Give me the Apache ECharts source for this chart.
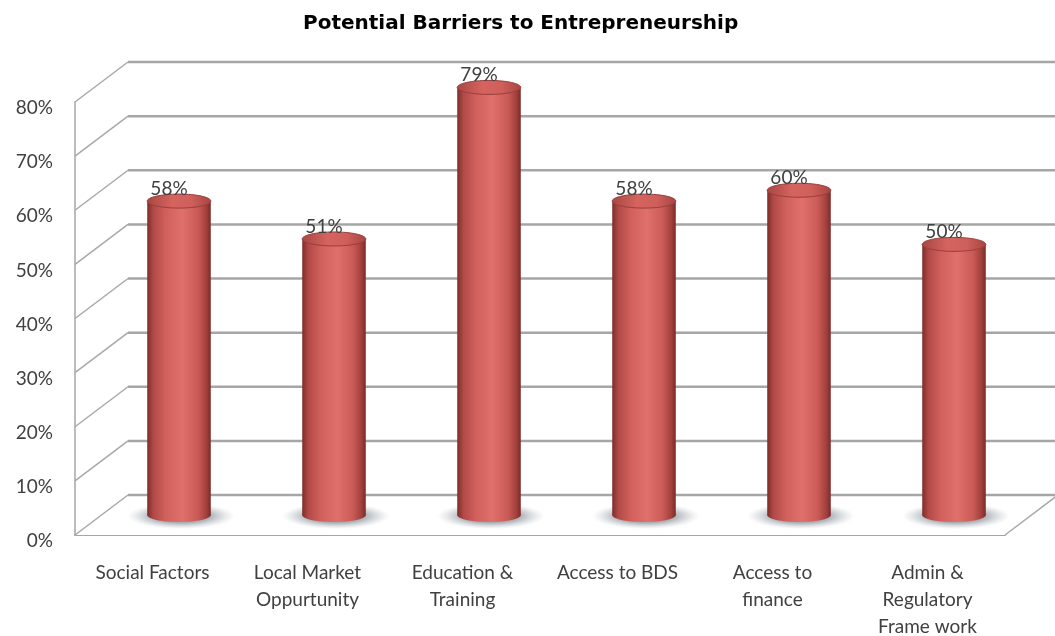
<!DOCTYPE html>
<html>
<head>
<meta charset="utf-8">
<script src="https://cdn.jsdelivr.net/npm/echarts@6/dist/echarts.min.js"></script>
<style>
  html, body { margin: 0; padding: 0; background: #ffffff; }
  #chart { width: 1055px; height: 636px; }
</style>
</head>
<body>
<div id="chart"></div>
<script>
// Survey results: share of respondents naming each barrier
const categories = [
  'Social Factors',
  'Local Market\nOppurtunity',
  'Education &\nTraining',
  'Access to BDS',
  'Access to\nfinance',
  'Admin &\nRegulatory\nFrame work'
];
const barriers = [58, 51, 79, 58, 60, 50];
const yTicks = [0, 10, 20, 30, 40, 50, 60, 70, 80];

// Depth of the pseudo-3D box (pixel offset from front plane to back wall)
const DEPTH_X = 53;
const DEPTH_Y = -40;
const TEXT_FONT = 'Lato, "Open Sans", sans-serif';
const GRID_COLOR = '#a8a8a8';

// Back wall, side wall and floor lines, one item per y tick
function renderWall(params, api) {
  const v = api.value(1);
  const p = api.coord([0, v]);
  const cs = params.coordSys;
  const x0 = cs.x;
  const x1 = cs.x + cs.width;
  const y = p[1];
  const children = [];
  if (v === 0) {
    children.push({
      type: 'polygon',
      shape: { points: [[x0, y], [x0 + DEPTH_X, y + DEPTH_Y], [x1 + DEPTH_X, y + DEPTH_Y], [x1, y]] },
      style: { fill: '#ffffff' }
    });
    children.push({
      type: 'line',
      shape: { x1: x1, y1: y, x2: x1 + DEPTH_X, y2: y + DEPTH_Y },
      style: { stroke: GRID_COLOR, lineWidth: 1.5 }
    });
  }
  children.push({
    type: 'line',
    shape: { x1: x0, y1: y, x2: x0 + DEPTH_X, y2: y + DEPTH_Y },
    style: { stroke: GRID_COLOR, lineWidth: 1.5 }
  });
  children.push({
    type: 'line',
    shape: { x1: x0 + DEPTH_X, y1: y + DEPTH_Y, x2: x1 + DEPTH_X, y2: y + DEPTH_Y },
    style: { stroke: '#a6a6a6', lineWidth: 2.5 }
  });
  return { type: 'group', children: children };
}

// Cylinder standing in the middle of the box depth
function renderCylinder(params, api) {
  const i = api.value(0);
  const v = api.value(1);
  const base = api.coord([i, 0]);
  const top = api.coord([i, v]);
  const w = api.size([1, 0])[0] * 0.41;
  const cx = base[0] + DEPTH_X / 2;
  const by = base[1] + DEPTH_Y / 2;
  const ty = top[1] + DEPTH_Y / 2;
  const rx = w / 2;
  const ry = 7;
  const shadowR = 13;
  const shadowRx = rx + 22;

  const bodyFill = new echarts.graphic.LinearGradient(0, 0, 1, 0, [
    { offset: 0, color: '#7e2d2b' },
    { offset: 0.1, color: '#b24a47' },
    { offset: 0.3, color: '#d2615d' },
    { offset: 0.55, color: '#e0706c' },
    { offset: 0.8, color: '#c95a56' },
    { offset: 0.93, color: '#a2403d' },
    { offset: 1, color: '#7a2b29' }
  ]);
  const topFill = new echarts.graphic.LinearGradient(0, 0, 1, 0, [
    { offset: 0, color: '#a84643' },
    { offset: 0.4, color: '#d5645f' },
    { offset: 0.7, color: '#cf5f5b' },
    { offset: 1, color: '#a64542' }
  ]);
  const shadowFill = new echarts.graphic.RadialGradient(0.5, 0.5, 0.5, [
    { offset: 0, color: 'rgba(80,90,100,0.85)' },
    { offset: 0.55, color: 'rgba(110,120,130,0.55)' },
    { offset: 1, color: 'rgba(160,170,180,0)' }
  ]);

  return {
    type: 'group',
    children: [
      {
        // soft floor shadow: a round gradient stretched sideways
        type: 'circle',
        shape: { cx: cx + 2, cy: by + 1, r: shadowR },
        originX: cx + 2,
        originY: by + 1,
        scaleX: shadowRx / shadowR,
        style: { fill: shadowFill }
      },
      {
        type: 'ellipse',
        shape: { cx: cx, cy: by, rx: rx, ry: ry },
        style: { fill: bodyFill }
      },
      {
        type: 'rect',
        shape: { x: cx - rx, y: ty, width: w, height: by - ty },
        style: { fill: bodyFill }
      },
      {
        type: 'ellipse',
        shape: { cx: cx, cy: ty, rx: rx, ry: ry },
        style: { fill: topFill, stroke: '#9a3d3a', lineWidth: 1 }
      },
      {
        type: 'text',
        x: cx - 10,
        y: ty - 3,
        style: {
          text: v + '%',
          align: 'center',
          verticalAlign: 'bottom',
          fontSize: 19,
          fontFamily: TEXT_FONT,
          fill: '#404040'
        }
      }
    ]
  };
}

const chart = echarts.init(document.getElementById('chart'), null, { renderer: 'canvas' });

chart.setOption({
  backgroundColor: '#ffffff',
  animation: false,
  title: {
    text: 'Potential Barriers to Entrepreneurship',
    left: 298,
    top: 9,
    textStyle: {
      fontFamily: '"DejaVu Sans", Verdana, sans-serif',
      fontWeight: 'bold',
      fontSize: 20,
      color: '#000000'
    }
  },
  grid: {
    left: 75, right: 50, top: 102, bottom: 101,
    containLabel: false,
    outerBoundsMode: 'none'
  },
  xAxis: {
    type: 'category',
    data: categories,
    axisLine: { show: true, lineStyle: { color: '#a6a6a6', width: 2 } },
    axisTick: { show: false },
    axisLabel: {
      interval: 0,
      margin: 24,
      fontSize: 19,
      lineHeight: 27,
      fontFamily: TEXT_FONT,
      color: '#404040'
    },
    splitLine: { show: false }
  },
  yAxis: {
    type: 'value',
    min: 0,
    max: 80,
    interval: 10,
    axisLine: { show: true, lineStyle: { color: '#a6a6a6', width: 1.5 } },
    axisTick: { show: false },
    splitLine: { show: false },
    axisLabel: {
      formatter: '{value}%',
      margin: 22,
      fontSize: 19,
      fontFamily: TEXT_FONT,
      color: '#404040',
      verticalAlign: 'top',
      lineHeight: 12
    }
  },
  series: [
    {
      type: 'custom',
      name: 'walls',
      silent: true,
      z: 1,
      renderItem: renderWall,
      data: yTicks.map(function (t) { return [0, t]; })
    },
    {
      type: 'custom',
      name: 'barriers',
      silent: true,
      z: 5,
      renderItem: renderCylinder,
      data: barriers.map(function (v, i) { return [i, v]; })
    }
  ]
});
</script>
</body>
</html>
